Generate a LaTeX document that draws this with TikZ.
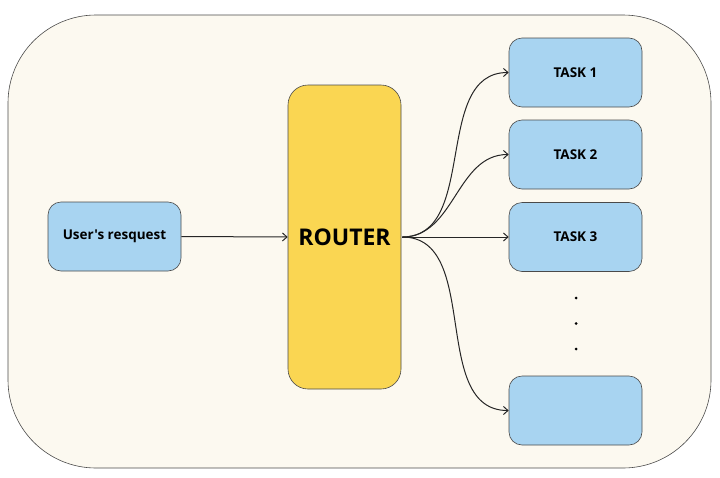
\documentclass[tikz,border=0pt]{standalone}
\usepackage{fontspec}
\setmainfont{Open Sans}[Ligatures=TeXOff]
\usetikzlibrary{arrows.meta}
\definecolor{bgcream}{HTML}{FCF9F0}
\definecolor{boxblue}{HTML}{A8D4F1}
\definecolor{routeryellow}{HTML}{FAD652}
\definecolor{edgegray}{HTML}{4A4A4A}
\tikzset{
  bluebox/.style={draw=edgegray, line width=0.6pt, fill=boxblue, rounded corners=13pt,
    minimum width=133pt, minimum height=69pt, inner sep=0pt, font=\fontsize{13.5}{16}\selectfont\bfseries},
  routerbox/.style={draw=edgegray, line width=0.6pt, fill=routeryellow, rounded corners=20pt,
    minimum width=113pt, minimum height=304pt, inner sep=0pt, font=\fontsize{23}{28}\selectfont\bfseries},
  dotnode/.style={circle, fill=black, inner sep=0pt, minimum size=3pt},
  conn/.style={draw=black!85, line width=1pt, -{Straight Barb[length=4.5pt,width=8pt]}},
}
\begin{document}
\begin{tikzpicture}[x=1pt,y=-1pt]
\useasboundingbox (0,0) rectangle (720,477);
\draw[draw=edgegray, line width=0.6pt, fill=bgcream, rounded corners=88pt] (8,15) rectangle (711,468);
\node[bluebox] (user) at (114.5,236.5) {User's resquest};
\node[routerbox] (router) at (344.5,237) {ROUTER};
\node[bluebox] (t1) at (575.5,72.5) {TASK 1};
\node[bluebox] (t2) at (575.5,154.5) {TASK 2};
\node[bluebox] (t3) at (575.5,237) {TASK 3};
\node[bluebox] (tn) at (575.5,410.5) {};
\node[dotnode] (d1) at (576,298) {};
\node[dotnode] (d2) at (576,323.5) {};
\node[dotnode] (d3) at (576,349) {};
\coordinate (rout) at ([xshift=1pt]router.east);
\draw[conn] (user.east) -- (router.west);
\draw[conn] (rout) to[out=0,in=180] (t1.west);
\draw[conn] (rout) to[out=0,in=180] (t2.west);
\draw[conn] (rout) -- (t3.west);
\draw[conn] (rout) to[out=0,in=180] (tn.west);
\end{tikzpicture}
\end{document}
